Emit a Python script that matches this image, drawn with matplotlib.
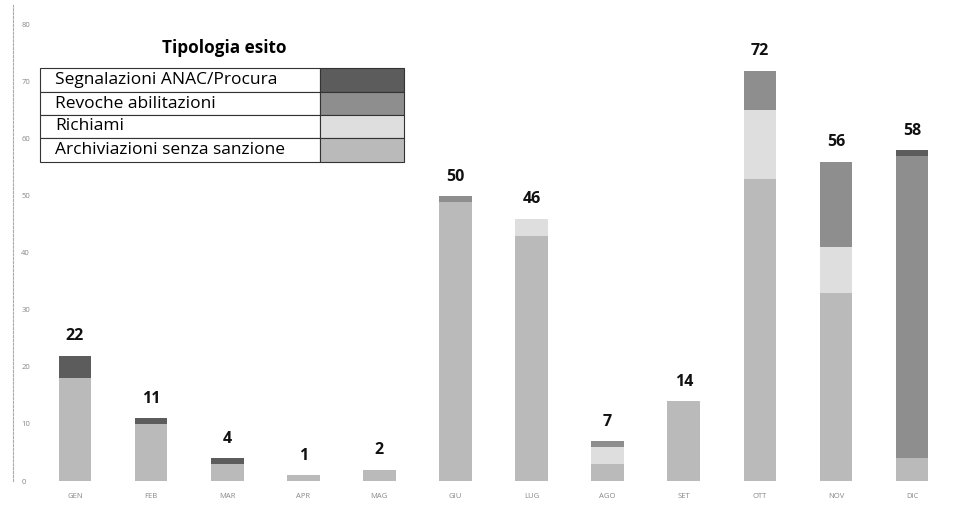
import matplotlib.pyplot as plt
import matplotlib.patches as mpatches
import numpy as np

# dati
mesi = ["GEN", "FEB", "MAR", "APR", "MAG", "GIU", "LUG", "AGO", "SET", "OTT", "NOV", "DIC"]
archiviazioni = [18, 10, 3, 1, 2, 49, 43, 3, 14, 53, 33, 4]
richiami = [0, 0, 0, 0, 0, 0, 3, 3, 0, 12, 8, 0]
revoche = [0, 0, 0, 0, 0, 1, 0, 1, 0, 7, 15, 53]
segnalazioni = [4, 1, 1, 0, 0, 0, 0, 0, 0, 0, 0, 1]
totali = [22, 11, 4, 1, 2, 50, 46, 7, 14, 72, 56, 58]

serie = [
    ("Archiviazioni senza sanzione", archiviazioni, "#bababa"),
    ("Richiami", richiami, "#dedede"),
    ("Revoche abilitazioni", revoche, "#8e8e8e"),
    ("Segnalazioni ANAC/Procura", segnalazioni, "#5c5c5c"),
]

plt.rcParams['font.family'] = ['Open Sans', 'DejaVu Sans']

fig = plt.figure(figsize=(9.75, 5.05), dpi=100)
ax = fig.add_axes([13 / 975, 24 / 505, 947 / 975, 476 / 505])

x = np.arange(len(mesi))
base = np.zeros(len(mesi))
for nome, vals, col in serie:
    ax.bar(x, vals, width=0.43, bottom=base, color=col, edgecolor="none")
    base += np.array(vals)

for xi, t in zip(x, totali):
    ax.text(xi, t + 2.0, str(t), ha="center", va="bottom", fontsize=11.5,
            fontweight="bold", color="#111111",
            family=["Liberation Sans Narrow", "Open Sans"])

ax.set_xlim(-0.815, 11.63)
ax.set_ylim(0, 83.5)
ax.set_xticks(x)
ax.set_xticklabels(mesi, fontsize=5.5, color="#888888")
ax.set_yticks(np.arange(0, 90, 10))
ax.set_yticklabels([str(v) for v in range(0, 90, 10)], fontsize=5.5, color="#888888")
ax.tick_params(axis="x", length=0, pad=9)
ax.tick_params(axis="y", length=0, pad=-6)
for lab in ax.get_yticklabels():
    lab.set_horizontalalignment("left")
for s in ["top", "right", "bottom"]:
    ax.spines[s].set_visible(False)
ax.spines["left"].set_color("#aaaaaa")
ax.spines["left"].set_linestyle((0, (2, 1.5)))
ax.spines["left"].set_linewidth(0.8)

# legenda a tabella
W, H = 975, 505
def fx(px):
    return px / W
def fy(py):
    return 1 - py / H

fig.text(fx(224), fy(48), "Tipologia esito", ha="center", va="center",
         fontsize=12.3, fontweight="bold")
righe = [68, 92, 115, 138, 162]
voci = list(reversed(serie))
for i, (nome, vals, col) in enumerate(voci):
    y0, y1 = righe[i], righe[i + 1]
    fig.patches.append(mpatches.Rectangle((fx(40), fy(y1)), fx(280), fy(y0) - fy(y1),
                                          transform=fig.transFigure, facecolor="white",
                                          edgecolor="#333333", linewidth=0.8))
    fig.patches.append(mpatches.Rectangle((fx(320), fy(y1)), fx(84), fy(y0) - fy(y1),
                                          transform=fig.transFigure, facecolor=col,
                                          edgecolor="#333333", linewidth=0.8))
    fig.text(fx(55), fy((y0 + y1) / 2), nome, ha="left", va="center", fontsize=12.5)

fig.savefig("out.png", dpi=100)
